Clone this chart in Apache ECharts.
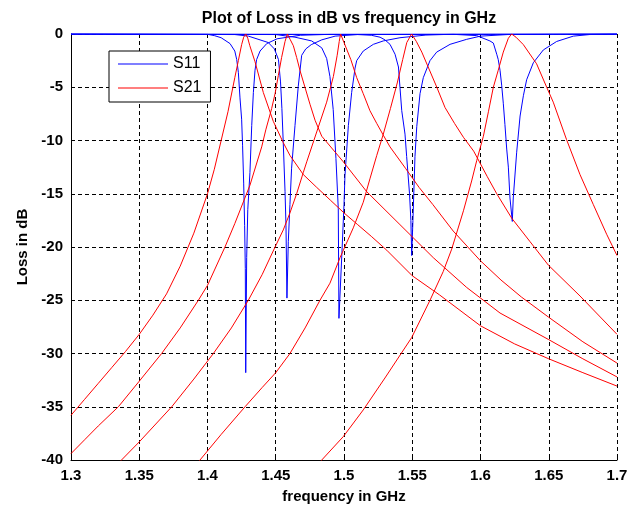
<!DOCTYPE html>
<html>
<head>
<meta charset="utf-8">
<script src="https://cdn.jsdelivr.net/npm/echarts@6/dist/echarts.min.js"></script>
<style>
  html, body { margin: 0; padding: 0; background: #fff; }
  #chart { width: 640px; height: 509px; }
</style>
</head>
<body>
<div id="chart"></div>
<script>
// Frequency axis ticks (GHz) and loss axis ticks (dB)
const freqTicks = [1.3, 1.35, 1.4, 1.45, 1.5, 1.55, 1.6, 1.65, 1.7];
const lossTicks = [-40, -35, -30, -25, -20, -15, -10, -5, 0];

// S11 (return loss) of the five channels: [frequency GHz, dB]
const s11_ch1 = [[1.300,0],[1.400,-0.03],[1.405,-0.15],[1.410,-0.35],[1.4165,-0.9],[1.420,-1.6],[1.4214,-2.4],[1.4226,-3.6],[1.4238,-6.0],[1.425,-8.0],[1.4257,-10.5],[1.4265,-14.0],[1.4272,-18.0],[1.4277,-22.0],[1.428,-31.8],[1.4287,-21.0],[1.4295,-16.5],[1.4311,-13.0],[1.4324,-8.6],[1.4336,-5.5],[1.4348,-3.4],[1.436,-2.4],[1.4385,-1.6],[1.4434,-0.9],[1.451,-0.45],[1.468,-0.12],[1.490,-0.03],[1.700,0]];
const s11_ch2 = [[1.300,0],[1.420,-0.05],[1.430,-0.2],[1.4348,-0.4],[1.4445,-0.8],[1.449,-1.4],[1.452,-2.4],[1.4535,-4.5],[1.4545,-7.0],[1.4555,-10.2],[1.4568,-14.8],[1.4575,-18.0],[1.4582,-24.8],[1.4592,-19.5],[1.4604,-16.0],[1.4616,-12.6],[1.4641,-8.6],[1.4665,-4.9],[1.469,-2.0],[1.472,-1.4],[1.476,-1.0],[1.4837,-0.55],[1.4935,-0.2],[1.510,-0.05],[1.700,0]];
const s11_ch3 = [[1.300,0],[1.450,-0.05],[1.4641,-0.3],[1.4763,-0.65],[1.4837,-1.3],[1.4873,-2.3],[1.4897,-4.0],[1.4921,-7.1],[1.4941,-11.7],[1.4958,-16.4],[1.4963,-26.7],[1.4985,-20.5],[1.5000,-16.0],[1.5007,-13.3],[1.5032,-8.6],[1.5056,-5.5],[1.5081,-3.2],[1.5093,-2.5],[1.5141,-1.6],[1.5215,-0.97],[1.5288,-0.65],[1.541,-0.35],[1.560,-0.1],[1.580,-0.02],[1.700,0]];
const s11_ch4 = [[1.300,0],[1.510,-0.05],[1.520,-0.12],[1.5264,-0.3],[1.530,-0.55],[1.5337,-0.97],[1.5374,-1.9],[1.5399,-3.1],[1.541,-5.0],[1.5423,-7.2],[1.5447,-9.4],[1.5459,-11.5],[1.548,-15.0],[1.549,-17.5],[1.5496,-20.8],[1.5505,-17.5],[1.552,-11.5],[1.5533,-8.7],[1.5557,-5.6],[1.5581,-4.1],[1.563,-2.5],[1.5679,-1.7],[1.5777,-0.97],[1.5899,-0.5],[1.600,-0.2],[1.620,-0.05],[1.700,0]];
const s11_ch5 = [[1.300,0],[1.580,-0.03],[1.5972,-0.15],[1.6069,-0.65],[1.6094,-0.85],[1.6119,-1.9],[1.613,-2.4],[1.6143,-3.4],[1.6155,-4.8],[1.6167,-6.5],[1.6179,-8.5],[1.6192,-10.8],[1.6204,-12.5],[1.6216,-15.4],[1.6233,-17.6],[1.624,-15.4],[1.6265,-11.1],[1.629,-7.7],[1.6314,-5.8],[1.6338,-4.3],[1.6387,-2.7],[1.646,-1.5],[1.6558,-0.7],[1.668,-0.2],[1.680,-0.05],[1.700,0]];

// S21 (transmission) of the five channels: [frequency GHz, dB]
const s21_ch1 = [[1.300,-35.8],[1.310,-34.3],[1.320,-32.8],[1.330,-31.3],[1.340,-29.8],[1.350,-28.2],[1.360,-26.4],[1.370,-24.4],[1.380,-21.8],[1.390,-18.7],[1.400,-15.0],[1.405,-12.7],[1.410,-10.0],[1.415,-7.3],[1.420,-4.1],[1.4226,-2.5],[1.425,-1.0],[1.4265,-0.3],[1.428,0],[1.4295,-0.4],[1.431,-1.1],[1.4348,-2.6],[1.4409,-5.5],[1.4482,-8.2],[1.4555,-10.2],[1.4604,-11.4],[1.4702,-13.2],[1.480,-14.4],[1.490,-15.6],[1.500,-16.8],[1.510,-17.9],[1.520,-19.0],[1.5313,-20.3],[1.550,-22.7],[1.570,-24.5],[1.600,-27.4],[1.625,-29.1],[1.650,-30.5],[1.675,-31.8],[1.700,-33.06]];
const s21_ch2 = [[1.300,-39.4],[1.310,-38.1],[1.320,-36.8],[1.3347,-35.0],[1.350,-32.6],[1.3664,-30.0],[1.380,-27.6],[1.3933,-25.0],[1.400,-23.6],[1.4128,-20.0],[1.420,-17.8],[1.4311,-14.2],[1.4397,-10.6],[1.4427,-9.0],[1.447,-7.0],[1.4495,-5.6],[1.4519,-3.9],[1.4543,-2.2],[1.4568,-0.7],[1.4585,0],[1.4605,-0.5],[1.4629,-1.1],[1.4653,-2.2],[1.4678,-3.45],[1.4714,-5.0],[1.4751,-6.6],[1.4788,-8.1],[1.4837,-9.6],[1.4995,-12.0],[1.5166,-14.8],[1.541,-17.9],[1.5654,-21.0],[1.5899,-23.8],[1.6143,-26.2],[1.650,-28.7],[1.675,-30.5],[1.700,-32.2]];
const s21_ch3 = [[1.330,-41.0],[1.337,-40.0],[1.350,-38.3],[1.3738,-35.0],[1.390,-32.4],[1.4043,-30.0],[1.4175,-27.6],[1.4299,-25.0],[1.440,-22.6],[1.4495,-20.0],[1.4555,-18.4],[1.4604,-16.8],[1.4653,-15.0],[1.4702,-13.0],[1.4727,-12.0],[1.480,-9.2],[1.4873,-6.4],[1.4922,-4.0],[1.495,-2.0],[1.4965,-0.7],[1.4975,0],[1.500,-0.8],[1.505,-2.4],[1.5093,-4.1],[1.5141,-5.6],[1.519,-7.2],[1.524,-8.4],[1.5288,-9.5],[1.5337,-10.6],[1.545,-12.6],[1.555,-14.4],[1.565,-16.0],[1.580,-18.5],[1.600,-21.3],[1.615,-23.1],[1.630,-24.7],[1.650,-26.6],[1.675,-28.9],[1.700,-30.9]];
const s21_ch4 = [[1.390,-40.8],[1.3945,-40.0],[1.410,-37.6],[1.4275,-35.0],[1.440,-33.2],[1.450,-31.8],[1.4604,-30.0],[1.4715,-27.6],[1.4824,-25.0],[1.4897,-23.4],[1.4971,-21.0],[1.5068,-18.2],[1.5141,-15.8],[1.519,-13.6],[1.524,-11.4],[1.5288,-9.4],[1.534,-7.0],[1.539,-4.6],[1.543,-2.4],[1.546,-0.8],[1.5495,0],[1.553,-0.7],[1.557,-1.7],[1.562,-3.2],[1.568,-5.0],[1.574,-6.9],[1.581,-8.4],[1.5875,-9.7],[1.595,-11.0],[1.600,-12.2],[1.605,-13.4],[1.6119,-15.0],[1.6229,-17.3],[1.6363,-19.5],[1.6497,-21.7],[1.6729,-24.6],[1.700,-28.2]];
const s21_ch5 = [[1.478,-41.0],[1.4837,-40.0],[1.4995,-37.8],[1.5141,-35.3],[1.530,-32.3],[1.5496,-28.5],[1.563,-25.0],[1.5727,-22.3],[1.5789,-20.2],[1.5875,-16.6],[1.5935,-13.8],[1.5972,-11.9],[1.6021,-9.6],[1.6058,-7.3],[1.6094,-5.0],[1.613,-3.4],[1.6167,-1.7],[1.6204,-0.4],[1.6228,0],[1.626,-0.3],[1.6314,-1.0],[1.6411,-2.8],[1.6485,-5.0],[1.6533,-6.4],[1.663,-9.9],[1.6729,-13.2],[1.6826,-16.0],[1.6924,-18.8],[1.700,-20.8]];

const s11Sets = [s11_ch1, s11_ch2, s11_ch3, s11_ch4, s11_ch5];
const s21Sets = [s21_ch1, s21_ch2, s21_ch3, s21_ch4, s21_ch5];

const FONT = 'Arial, "Liberation Sans", sans-serif';
const BLUE = '#0000ff';
const RED = '#ff0000';

function lineSeries(name, color, data) {
  return {
    name: name,
    type: 'line',
    data: data,
    showSymbol: false,
    symbol: 'none',
    clip: true,
    smooth: false,
    lineStyle: { color: color, width: 1 },
    itemStyle: { color: color },
    emphasis: { disabled: true },
    animation: false
  };
}

const series = [];
s11Sets.forEach(d => series.push(lineSeries('S11', BLUE, d)));
s21Sets.forEach(d => series.push(lineSeries('S21', RED, d)));

const gridDash = { color: '#000', width: 1, type: [4, 3] };

const chart = echarts.init(document.getElementById('chart'), null, { renderer: 'canvas' });
chart.setOption({
  animation: false,
  backgroundColor: '#fff',
  title: {
    text: 'Plot of Loss in dB vs frequency in GHz',
    left: 344,
    textAlign: 'center',
    top: 6,
    textStyle: { fontFamily: FONT, fontSize: 16, fontWeight: 'bold', color: '#000' }
  },
  legend: {
    data: ['S11', 'S21'],
    orient: 'vertical',
    left: 109,
    top: 51,
    icon: 'rect',
    backgroundColor: '#fff',
    borderColor: '#000',
    borderWidth: 1,
    borderRadius: 0,
    padding: [5, 9, 6, 9],
    itemWidth: 50,
    itemHeight: 1,
    itemGap: 8,
    selectedMode: false,
    textStyle: { fontFamily: FONT, fontSize: 16, lineHeight: 16, color: '#000' }
  },
  grid: { left: 71, right: 23, top: 34, bottom: 46, containLabel: false },
  xAxis: {
    type: 'value',
    min: freqTicks[0],
    max: freqTicks[freqTicks.length - 1],
    interval: 0.05,
    name: 'frequency in GHz',
    nameLocation: 'middle',
    nameGap: 29,
    nameTextStyle: { fontFamily: FONT, fontSize: 15, fontWeight: 'bold', color: '#000' },
    axisLine: { show: true, onZero: false, lineStyle: { color: '#000', width: 1 } },
    axisTick: { show: true, inside: true, length: 4, lineStyle: { color: '#000' } },
    axisLabel: {
      margin: 8,
      fontFamily: FONT, fontSize: 15, fontWeight: 'bold', color: '#000',
      formatter: v => String(+v.toFixed(2))
    },
    splitLine: { show: true, lineStyle: gridDash }
  },
  yAxis: {
    type: 'value',
    min: lossTicks[0],
    max: lossTicks[lossTicks.length - 1],
    interval: 5,
    name: 'Loss in dB',
    nameLocation: 'middle',
    nameGap: 41,
    nameTextStyle: { fontFamily: FONT, fontSize: 15, fontWeight: 'bold', color: '#000' },
    axisLine: { show: true, onZero: false, lineStyle: { color: '#000', width: 1 } },
    axisTick: { show: true, inside: true, length: 4, lineStyle: { color: '#000' } },
    axisLabel: {
      margin: 8,
      fontFamily: FONT, fontSize: 15, fontWeight: 'bold', color: '#000'
    },
    splitLine: { show: true, lineStyle: gridDash }
  },
  series: series
});
</script>
</body>
</html>
